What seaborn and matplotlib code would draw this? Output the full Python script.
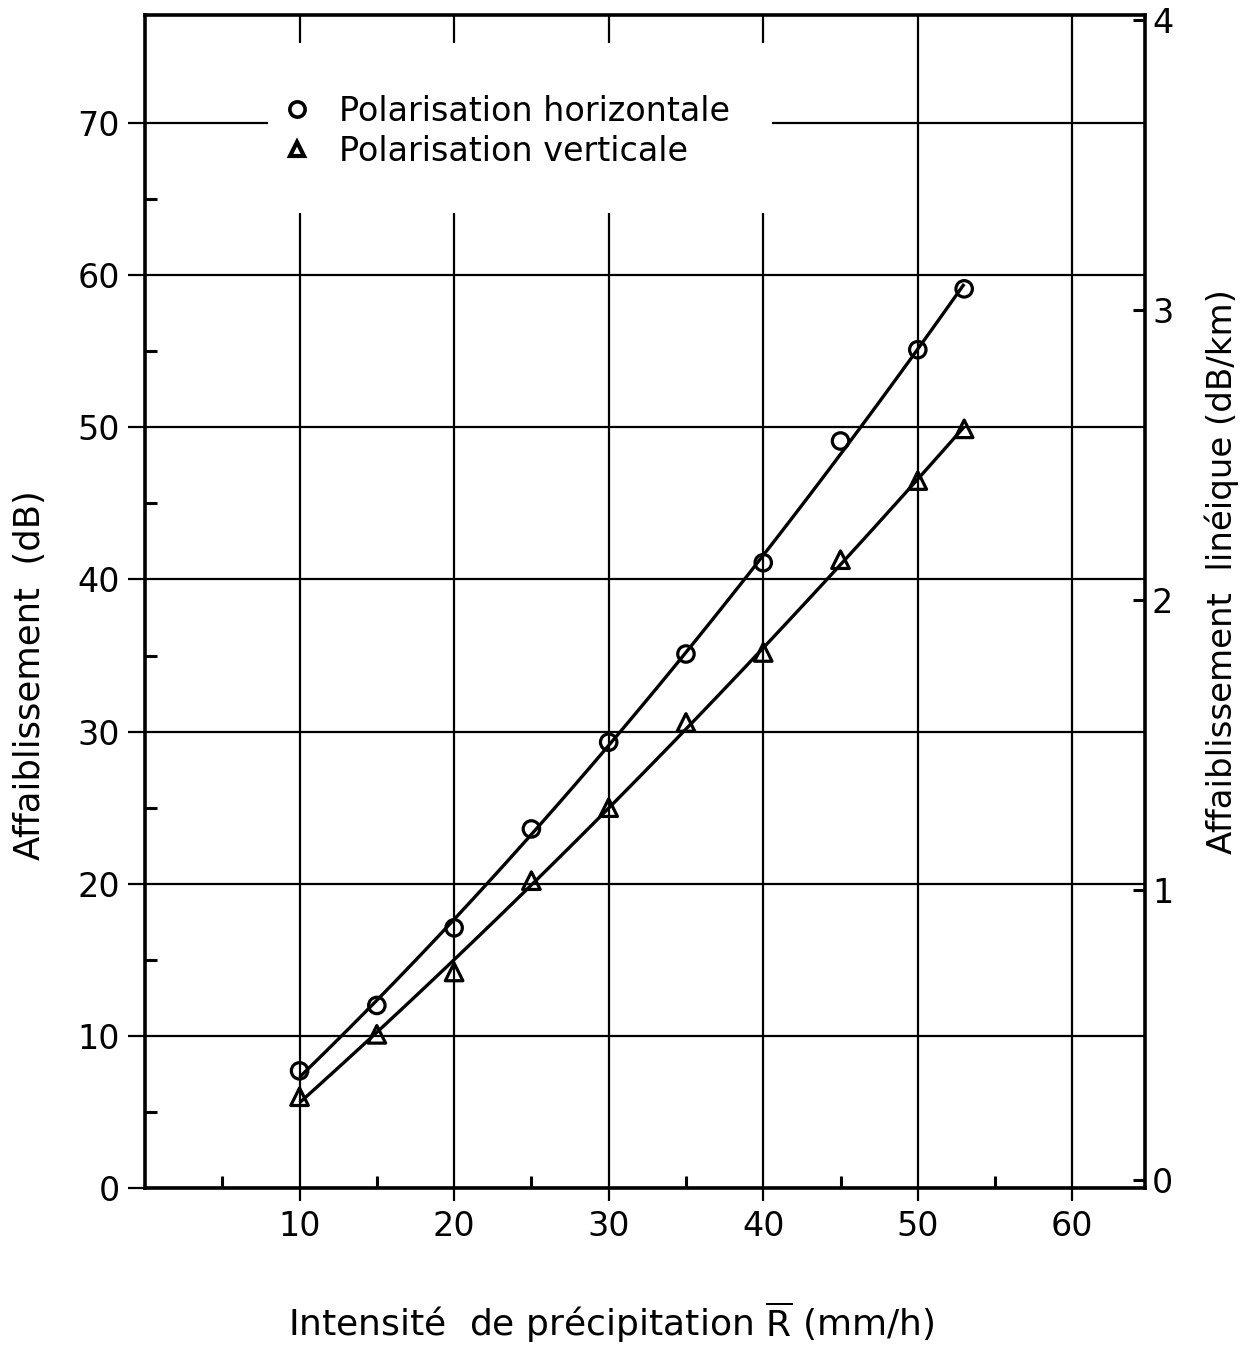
import numpy as np
import pandas as pd
import seaborn as sns
import matplotlib
matplotlib.use("Agg")
import matplotlib.pyplot as plt
from matplotlib.patches import Rectangle
from matplotlib.lines import Line2D
from matplotlib.ticker import FixedLocator

# ---------------- data ----------------
rain_rate = [10, 15, 20, 25, 30, 35, 40, 45, 50, 53]
atten_horizontal = [7.7, 12.0, 17.1, 23.6, 29.3, 35.1, 41.1, 49.1, 55.1, 59.1]
atten_vertical = [6.0, 10.1, 14.2, 20.2, 25.0, 30.6, 35.2, 41.3, 46.5, 49.9]

x_ticks = [10, 20, 30, 40, 50, 60]
x_minor = [5, 15, 25, 35, 45, 55]
y_ticks = [0, 10, 20, 30, 40, 50, 60, 70]
y_minor = [5, 15, 25, 35, 45, 55, 65]
right_ticks = [0, 1, 2, 3, 4]
legend_labels = ["Polarisation horizontale", "Polarisation verticale"]
x_label = r"Intensité  de précipitation $\overline{\mathrm{R}}$ (mm/h)"
y_label = "Affaiblissement  (dB)"
y2_label = "Affaiblissement  linéique (dB/km)"

df = pd.DataFrame({"R": rain_rate, "H": atten_horizontal, "V": atten_vertical})

# ---------------- style ----------------
sns.set_theme(style="white")
plt.rcParams["font.family"] = ["DejaVu Sans"]
plt.rcParams["mathtext.fontset"] = "dejavusans"
plt.rcParams["text.color"] = "black"
plt.rcParams["xtick.color"] = "black"
plt.rcParams["ytick.color"] = "black"
plt.rcParams["xtick.labelcolor"] = "black"
plt.rcParams["ytick.labelcolor"] = "black"

W, H = 1245, 1348
fig = plt.figure(figsize=(W / 100, H / 100), dpi=100)
fig.patch.set_facecolor("white")
ax = fig.add_axes([145 / W, 1 - 1188 / H, 1000 / W, 1173 / H])
ax.set_facecolor("white")

# fitted curves
for col in ["H", "V"]:
    sns.regplot(data=df, x="R", y=col, order=2, ci=None, scatter=False,
                truncate=True, color="black",
                line_kws={"lw": 2.4, "solid_capstyle": "butt", "zorder": 3}, ax=ax)

# data points
sns.scatterplot(data=df, x="R", y="H", marker="o", s=140, facecolors="none",
                edgecolor="black", linewidth=2.3, zorder=4, ax=ax)
sns.scatterplot(data=df, x="R", y="V", marker="^", s=160, facecolors="none",
                edgecolor="black", linewidth=2.3, zorder=4, ax=ax)

ax.set_xlim(0, 64.7)
ax.set_ylim(0, 77.1)

# grid
ax.set_axisbelow(True)
ax.xaxis.set_major_locator(FixedLocator(x_ticks))
ax.yaxis.set_major_locator(FixedLocator(y_ticks))
ax.xaxis.set_minor_locator(FixedLocator(x_minor))
ax.yaxis.set_minor_locator(FixedLocator(y_minor))
ax.grid(True, which="major", color="black", lw=1.6)
ax.grid(False, which="minor")

# white gap behind the legend (interrupts the grid)
ax.add_patch(Rectangle((0.123, 0.831), 0.504, 0.145, transform=ax.transAxes,
                       facecolor="white", edgecolor="none", zorder=1))

for s in ax.spines.values():
    s.set_color("black")
    s.set_linewidth(2.6)

ax.tick_params(axis="both", which="both", bottom=True, left=True, top=False,
               right=False)
ax.tick_params(axis="x", which="major", direction="out", length=9.5, width=1.6,
               labelsize=24, pad=6)
ax.tick_params(axis="y", which="major", direction="out", length=12, width=1.6,
               labelsize=24, pad=6)
ax.tick_params(axis="both", which="minor", direction="in", length=8.5, width=2.2)
ax.set_xticklabels([str(v) for v in x_ticks])
ax.set_yticklabels([str(v) for v in y_ticks])
ax.set_xlabel("")
ax.set_ylabel("")

# right axis (dB/km)
ax2 = ax.twinx()
ax2.set_ylim(-0.028, 4.017)
ax2.yaxis.set_major_locator(FixedLocator(right_ticks))
ax2.tick_params(axis="y", which="major", left=False, right=True, direction="in",
                length=8.5, width=2.2, labelsize=24, pad=5)
ax2.tick_params(axis="y", which="minor", left=False, right=False)
ax2.set_yticklabels([str(v) for v in right_ticks])
for s in ax2.spines.values():
    s.set_visible(False)
ax2.grid(False)

# legend
handles = [
    Line2D([], [], ls="none", marker="o", mfc="none", mec="black", ms=11, mew=2.6),
    Line2D([], [], ls="none", marker="^", mfc="none", mec="black", ms=10, mew=3.0),
]
leg = ax.legend(handles, legend_labels, loc="upper left",
                bbox_to_anchor=(0.119, 0.946), frameon=False, fontsize=24,
                handlelength=1.0, handletextpad=0.75, labelspacing=0.2,
                borderpad=0)
leg.set_zorder(6)

# axis labels
fig.text(611 / W, 1 - 1322 / H, x_label, ha="center", va="center", fontsize=26)
fig.text(30 / W, 1 - 675 / H, y_label, ha="center", va="center",
         rotation=90, fontsize=25.5)
fig.text(1222 / W, 1 - 572 / H, y2_label, ha="center", va="center",
         rotation=90, fontsize=24.5)

fig.savefig("out.png", dpi=100, facecolor="white")
